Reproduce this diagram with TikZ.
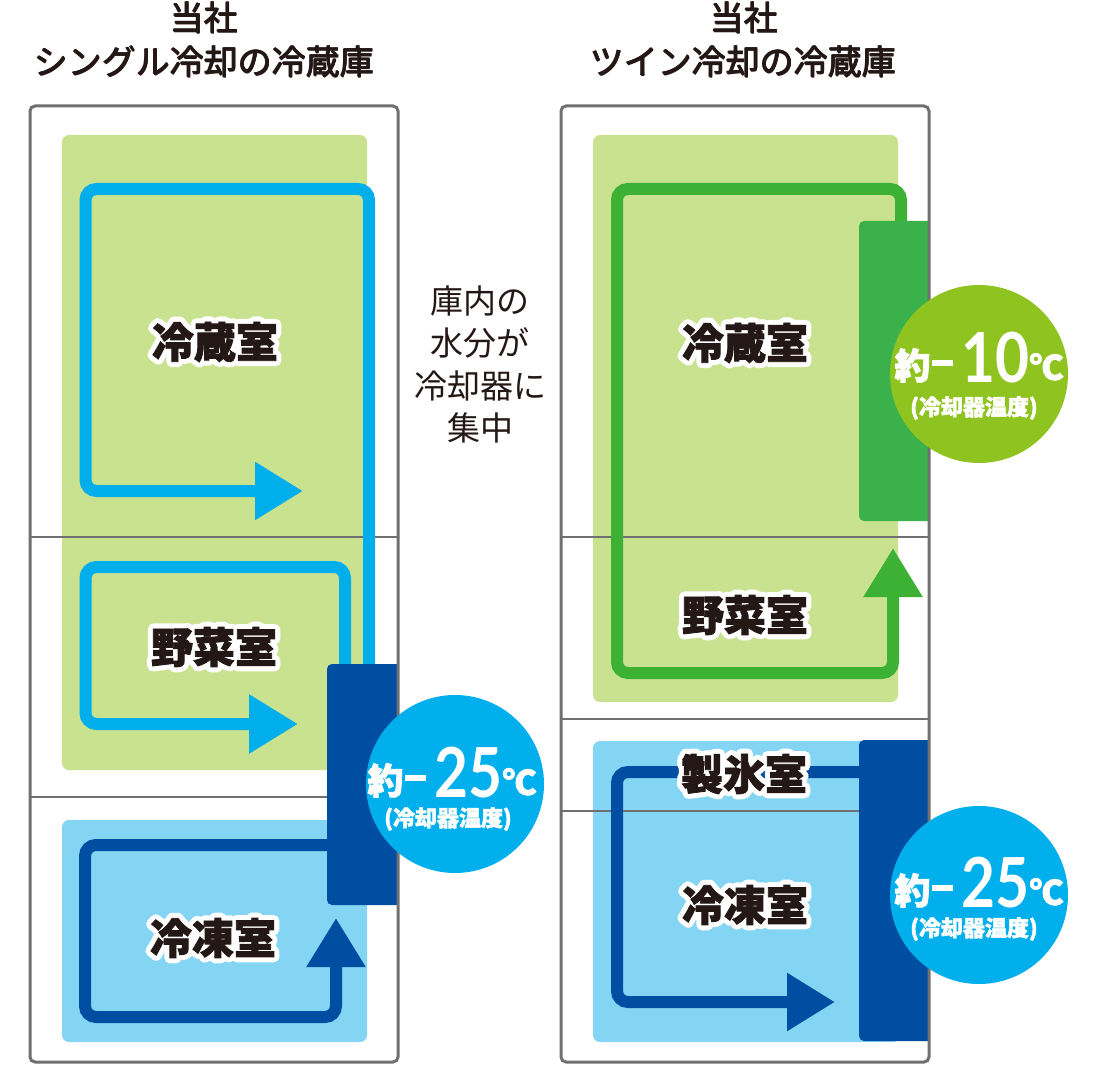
\documentclass[tikz,border=0pt]{standalone}
\usepackage{fontspec}
\newfontfamily\jp{Noto Sans CJK JP}
\newfontfamily\jpblk{Noto Sans CJK JP}[BoldFeatures={FakeBold=2}]
\newfontfamily\jphalo{Noto Sans CJK JP}[BoldFeatures={FakeBold=26}]
\newfontfamily\lat{Lato}
\usetikzlibrary{arrows.meta,calc}
\definecolor{framegray}{HTML}{707070}
\definecolor{lgreen}{HTML}{C9E28F}
\definecolor{lblue}{HTML}{84D5F4}
\definecolor{cyanflow}{HTML}{00AEEC}
\definecolor{dblue}{HTML}{004EA2}
\definecolor{gloop}{HTML}{3DB134}
\definecolor{gblock}{HTML}{3BB14C}
\definecolor{gcircle}{HTML}{8FC31F}
\definecolor{cblue}{HTML}{00AFEB}
\definecolor{ink}{HTML}{231815}
\newcommand{\templine}[1]{{\jpblk\bfseries\fontsize{36}{36}\selectfont\raisebox{3pt}{約}}\hspace{2pt}\rule[16pt]{21pt}{6pt}\hspace{8pt}{\lat\bfseries\fontsize{69}{69}\selectfont\scalebox{0.85}[1]{#1}}\hspace{0pt}{\jpblk\bfseries\fontsize{34}{34}\selectfont\raisebox{2pt}{℃}}}
\newcommand{\roomlabel}[3]{%
  \node[halo] at (#2) {#3};
  \node[room] (#1) at (#2) {#3};}
\newcommand{\titlelabel}[3]{%
  \foreach \ang in {0,90,180,270}{\node[title] at ($(#2)+(\ang:0.5)$) {#3};}
  \node[title] (#1) at (#2) {#3};}
\begin{document}
\begin{tikzpicture}[x=1pt,y=-1pt,
  frame/.style={draw=framegray, line width=3pt, rounded corners=5pt},
  divider/.style={draw=framegray, line width=2pt},
  flow/.style={line width=12pt, rounded corners=11pt},
  title/.style={font=\jp\fontsize{34}{34}\selectfont, text=ink, inner sep=0pt},
  room/.style={font=\jpblk\bfseries\fontsize{42}{42}\selectfont, text=ink, inner sep=0pt},
  halo/.style={font=\jphalo\bfseries\fontsize{42}{42}\selectfont, text=white, inner sep=0pt, line join=round},
  disc/.style={circle, minimum size=178pt, inner sep=0pt},
  paren/.style={font=\jpblk\bfseries\fontsize{22}{22}\selectfont, text=white, inner sep=0pt},
  temp/.style={anchor=base, inner sep=0pt, text=white}]
\useasboundingbox (0,0) rectangle (1097,1067);
\fill[white] (0,0) rectangle (1097,1067);
% ---------- left fridge ----------
\fill[lgreen, rounded corners=7pt] (62,135) rectangle (367,770);
\fill[lblue, rounded corners=7pt] (62,820) rectangle (367,1042);
\draw[divider] (30,537) -- (398,537);
\draw[divider] (30,797) -- (398,797);
\coordinate (L1s) at (369,690); \coordinate (L1a) at (369,189);
\coordinate (L1b) at (85.5,189); \coordinate (L1c) at (85.5,491);
\coordinate (L1t) at (303,491);
\draw[flow, draw=cyanflow, -{Triangle[length=48pt,width=55pt]}] (L1s) -- (L1a) -- (L1b) -- (L1c) -- (L1t);
\coordinate (L2s) at (345,690); \coordinate (L2a) at (345,567);
\coordinate (L2b) at (85.5,567); \coordinate (L2c) at (85.5,724);
\coordinate (L2t) at (298,724);
\draw[flow, draw=cyanflow, -{Triangle[length=49pt,width=56pt]}] (L2s) -- (L2a) -- (L2b) -- (L2c) -- (L2t);
\coordinate (L3s) at (345,845); \coordinate (L3a) at (85,845);
\coordinate (L3b) at (85,1017); \coordinate (L3c) at (336,1017);
\coordinate (L3t) at (336,918);
\draw[flow, draw=dblue, -{Triangle[length=49pt,width=56pt]}] (L3s) -- (L3a) -- (L3b) -- (L3c) -- (L3t);
\begin{scope}
  \clip (0,0) rectangle (398,1067);
  \fill[dblue, rounded corners=5pt] (327,664) rectangle (410,905);
\end{scope}
\draw[frame] (30,106) rectangle (398,1062);
% ---------- right fridge ----------
\fill[lgreen, rounded corners=7pt] (593,135) rectangle (898,702);
\fill[lblue, rounded corners=7pt] (593,741) rectangle (900,1042);
\draw[divider] (561,537) -- (929,537);
\draw[divider] (561,719) -- (929,719);
\draw[framegray, line width=1.5pt] (561,811) -- (860,811);
\coordinate (R1s) at (901,240); \coordinate (R1a) at (901,189);
\coordinate (R1b) at (617,189); \coordinate (R1c) at (617,673);
\coordinate (R1d) at (893,673); \coordinate (R1t) at (893,548);
\draw[flow, draw=gloop, -{Triangle[length=49pt,width=56pt]}] (R1s) -- (R1a) -- (R1b) -- (R1c) -- (R1d) -- (R1t);
\coordinate (R2s) at (870,772); \coordinate (R2a) at (617,772);
\coordinate (R2b) at (617,1002); \coordinate (R2t) at (835,1002);
\draw[flow, draw=dblue, -{Triangle[length=48pt,width=55pt]}] (R2s) -- (R2a) -- (R2b) -- (R2t);
\begin{scope}
  \clip (0,0) rectangle (929,1067);
  \fill[gblock, rounded corners=5pt] (859,221) rectangle (940,521);
  \fill[dblue, rounded corners=5pt] (859,740) rectangle (940,1041);
\end{scope}
\draw[frame] (561,106) rectangle (929,1062);
% ---------- temperature discs ----------
\node[disc, fill=cblue] (cL) at (455,784) {};
\node[temp] (tL) at (452,797) {\templine{25}};
\node[paren] (pL) at (448,819) {(冷却器温度)};
\node[disc, fill=gcircle] (cG) at (979,374) {};
\node[temp] (tG) at (979,382) {\templine{10}};
\node[paren] (pG) at (974,408) {(冷却器温度)};
\node[disc, fill=cblue] (cB) at (979,895) {};
\node[temp] (tB) at (979,907) {\templine{25}};
\node[paren] (pB) at (974,929) {(冷却器温度)};
% ---------- room labels ----------
\roomlabel{rL1}{215,342}{冷蔵室}
\roomlabel{rL2}{214,647}{野菜室}
\roomlabel{rL3}{213,938}{冷凍室}
\roomlabel{rR1}{745,343}{冷蔵室}
\roomlabel{rR2}{745,615}{野菜室}
\roomlabel{rR3}{744,774}{製氷室}
\roomlabel{rR4}{745,905}{冷凍室}
% ---------- titles ----------
\titlelabel{t1a}{204,18}{当社}
\titlelabel{t1b}{204,62}{シングル冷却の冷蔵庫}
\titlelabel{t2a}{744,18}{当社}
\titlelabel{t2b}{743,62}{ツイン冷却の冷蔵庫}
\node[font=\jp\fontsize{33}{42.5}\selectfont, align=center, text=ink, inner sep=0pt] (mid) at (480,364.5) {庫内の\\水分が\\冷却器に\\集中};
\end{tikzpicture}
\end{document}
